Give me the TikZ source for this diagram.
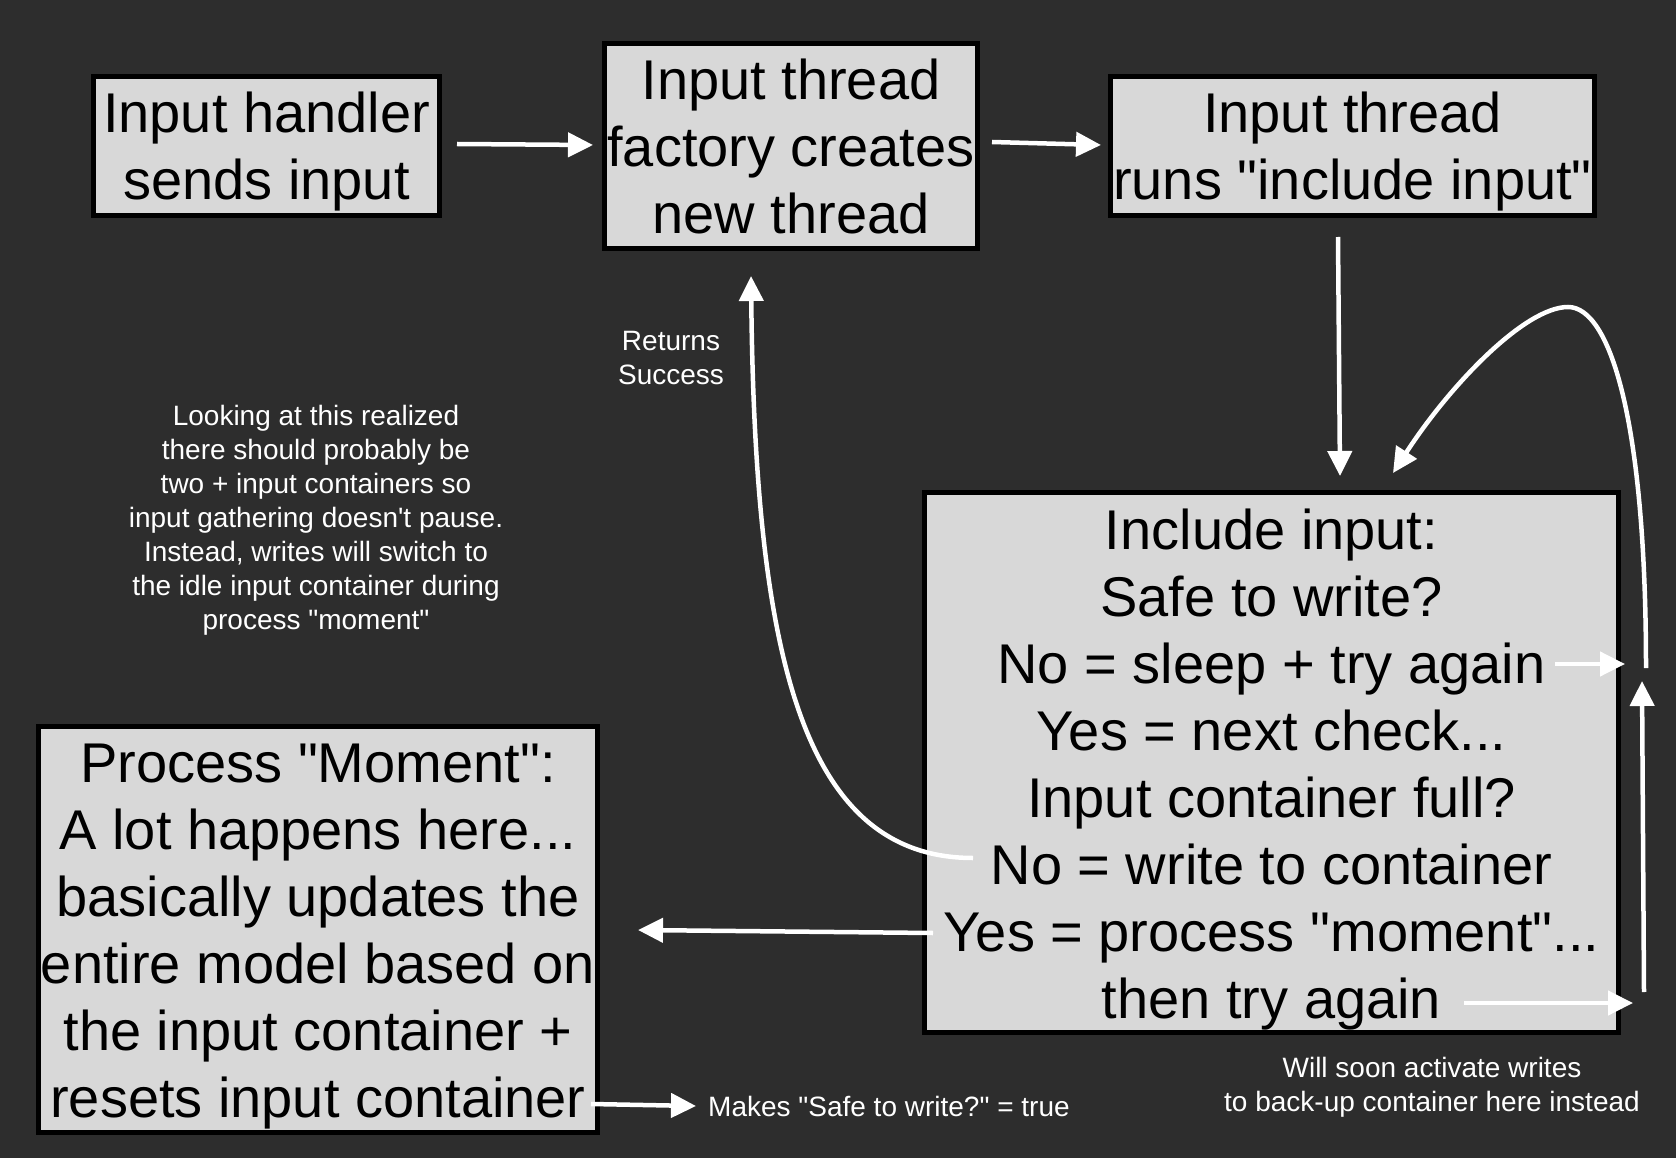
\documentclass[tikz,border=0pt]{standalone}
\usepackage{fontspec}
\setmainfont{Liberation Sans}[Ligatures=TeXOff]
\usetikzlibrary{arrows.meta,calc}
\definecolor{bg}{HTML}{2D2D2D}
\definecolor{boxfill}{HTML}{D8D8D8}
\begin{document}
\begin{tikzpicture}[x=1pt,y=-1pt,
  box/.style={draw=black,line width=5pt,fill=boxfill,inner sep=0pt},
  boxtext/.style={inner sep=0pt,align=center,font=\fontsize{56}{67}\selectfont,text=black},
  small/.style={text=white,inner sep=0pt,align=center,font=\fontsize{28}{34}\selectfont},
  arr/.style={draw=white,line width=4.5pt,-{Triangle[length=25pt,width=24pt]}}]
\path[fill=bg,use as bounding box] (0,0) rectangle (1676,1158);

\node[box,minimum width=346pt,minimum height=139pt] (b1) at (266.5,146) {};
\node[box,minimum width=373pt,minimum height=205pt] (b2) at (791,146) {};
\node[box,minimum width=484pt,minimum height=139pt] (b3) at (1352.5,146) {};
\node[box,minimum width=694pt,minimum height=540pt] (b4) at (1271.5,762.5) {};
\node[box,minimum width=559pt,minimum height=406pt] (b5) at (318,929.5) {};

\node[boxtext] (t1) at ($(b1.center)+(0,6)$) {Input handler\\sends input};
\node[boxtext] (t2) at ($(b2.center)+(0,0.5)$) {Input thread\\factory creates\\new thread};
\node[boxtext] (t3) at ($(b3.center)+(0,6)$) {Input thread\\runs "include input"};
\node[boxtext] (t4) at ($(b4.center)+(0,7.5)$) {Include input:\\Safe to write?\\No = sleep + try again\\Yes = next check...\\Input container full?\\No = write to container\\Yes = process "moment"...\\then try again};
\node[boxtext] (t5) at ($(b5.center)+(0,7.5)$) {Process "Moment":\\A lot happens here...\\basically updates the\\entire model based on\\the input container +\\resets input container};

\node[small] (note) at (316,520) {Looking at this realized\\there should probably be\\two + input containers so\\input gathering doesn't pause.\\Instead, writes will switch to\\the idle input container during\\process "moment"};
\node[small] (ret) at (671,358.5) {Returns\\Success};
\node[small] (will) at (1432,1087.5) {Will soon activate writes\\to back-up container here instead};
\node[small,anchor=west] (makes) at (708,1106) {Makes "Safe to write?" = true};

\draw[arr] ($(b1.east)+(15,-2)$) -- ($(b2.west)+(-9,-1)$);
\draw[arr] ($(b2.east)+(12,-4)$) -- ($(b3.west)+(-7,-1)$);
\draw[arr] ($(b3.south)+(-14.5,19)$) -- ($(b4.north)+(68.5,-14)$);
\draw[arr] ($(b4.east)+(25,-94.5)$) .. controls (1646,420) and (1610,307) .. (1568,307)
  .. controls (1525,307) and (1450,385) .. ($(b4.north)+(121.5,-17)$);
\draw[arr] ($(b4.east)+(-66,-98.5)$) -- ($(b4.east)+(4,-98.5)$);
\draw[arr] ($(b4.east)+(-157,240.5)$) -- ($(b4.east)+(12,240.5)$);
\draw[arr] ($(b4.east)+(23,229.5)$) -- ($(b4.east)+(21,-81.5)$);
\draw[arr] ($(b4.west)+(51,95.5)$) .. controls (800,858) and (755,650) .. ($(b2.south)+(-40,25)$);
\draw[arr] ($(b4.west)+(11,170.5)$) -- ($(b5.east)+(38,0.5)$);
\draw[arr] ($(b5.east)+(-9,174.5)$) -- ($(makes.west)+(-12,0)$);
\end{tikzpicture}
\end{document}
